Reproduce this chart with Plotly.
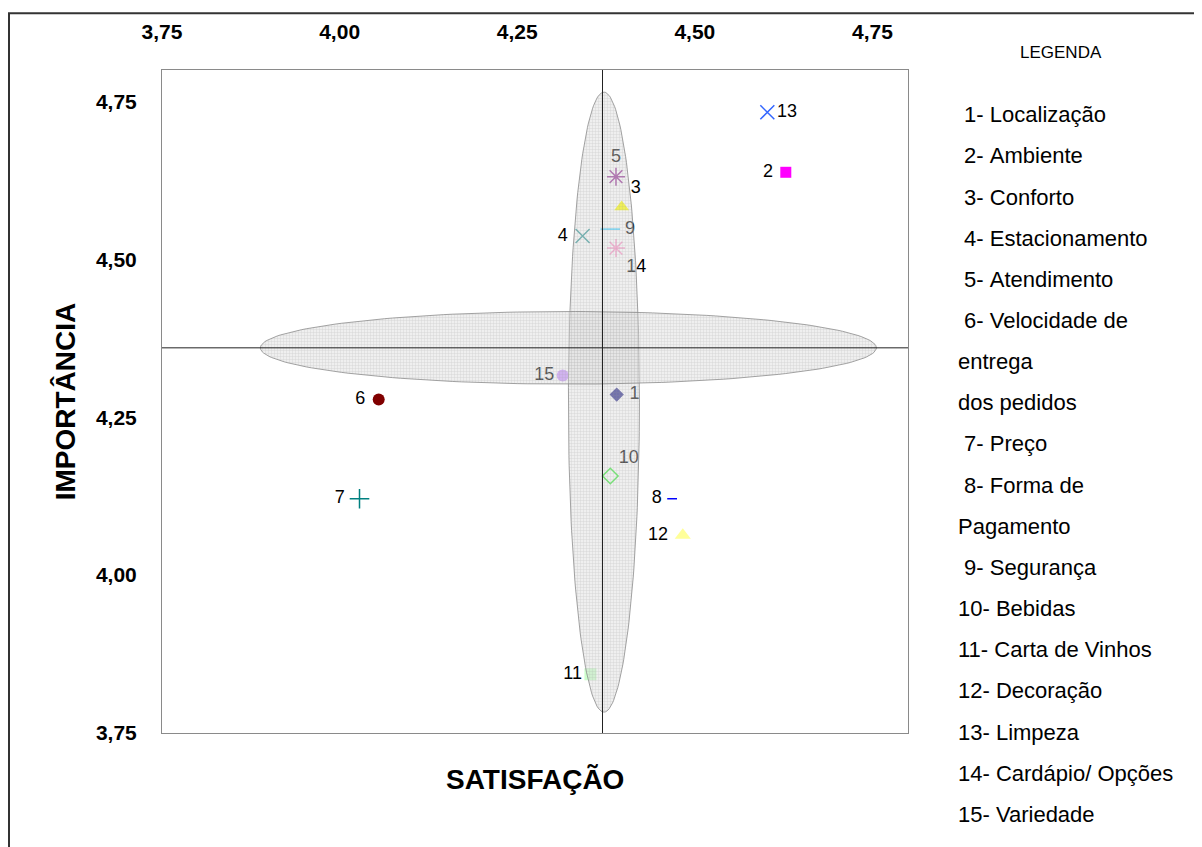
import numpy as np
import plotly.graph_objects as go

# ---------------- data ----------------
ids = [str(i) for i in range(1, 16)]
satisfacao = [4.390, 4.628, 4.397, 4.342, 4.389, 4.055, 4.028, 4.468,
              4.381, 4.381, 4.353, 4.483, 4.602, 4.389, 4.314]
importancia = [4.286, 4.638, 4.583, 4.537, 4.631, 4.278, 4.121, 4.121,
               4.548, 4.157, 3.843, 4.063, 4.733, 4.518, 4.316]
legend_lines = [" 1- Localização", " 2- Ambiente", " 3- Conforto",
                " 4- Estacionamento", " 5- Atendimento", " 6- Velocidade de",
                "entrega", "dos pedidos", " 7- Preço", " 8- Forma de",
                "Pagamento", " 9- Segurança", "10- Bebidas",
                "11- Carta de Vinhos", "12- Decoração", "13- Limpeza",
                "14- Cardápio/ Opções", "15- Variedade"]
tick_vals = [3.75, 4.00, 4.25, 4.50, 4.75]
tick_text = ["3,75", "4,00", "4,25", "4,50", "4,75"]
axis_range = [3.75, 4.80]
mean_sat = 4.370
mean_imp = 4.360

# ellipse parameters (centre x, centre y, radius x, radius y)
ellipse_v = (4.372, 4.274, 0.050, 0.491)
ellipse_h = (4.322, 4.360, 0.4335, 0.0575)

# ---------------- styles ----------------
symbols = ["diamond", "square", "triangle-up", "x-thin-open", "asterisk-open",
           "circle", "cross-thin-open", "line-ew-open", "line-ew-open",
           "diamond-open", "square", "triangle-up", "x-thin-open",
           "asterisk-open", "circle"]
colors = ["#2E2E8E", "#FF00FF", "#FFFF00", "#339999", "#993399",
          "#800000", "#008080", "#0000FF", "#33CCFF", "#33EE33",
          "#CCFFCC", "#FFFF99", "#3366FF", "#FF99CC", "#CC99FF"]
sizes = [11, 11, 13, 14, 15, 12, 14, 7, 14, 12, 12, 14, 14, 15, 12]
textpos = ["middle right", "middle left", "top right", "middle left",
           "top center", "middle left", "middle left", "middle left",
           "middle right", "top right", "middle left", "middle left",
           "middle right", "bottom right", "middle left"]

FONT = "Liberation Sans, Arial"
NB = "\u00a0"
fig = go.Figure()

for i in range(len(ids)):
    open_sym = symbols[i].endswith("-open")
    label = ids[i]
    if len(label) == 1 and textpos[i] == "middle left":
        label = label + NB
    elif len(label) == 1 and textpos[i] == "middle right":
        label = NB + label
    elif textpos[i] == "middle left" and ids[i] == "12":
        label = label + NB
    fig.add_trace(go.Scatter(
        x=[satisfacao[i]], y=[importancia[i]],
        mode="markers+text", text=[label], textposition=textpos[i],
        textfont=dict(family=FONT, size=18, color="black"),
        marker=dict(symbol=symbols[i], size=sizes[i], color=colors[i],
                    line=dict(color=colors[i], width=1.5 if open_sym else 0)),
        showlegend=False, hoverinfo="x+y"))


def ellipse(cx, cy, rx, ry, n=200):
    t = np.linspace(0, 2 * np.pi, n)
    return cx + rx * np.cos(t), cy + ry * np.sin(t)


for (cx, cy, rx, ry) in (ellipse_v, ellipse_h):
    ex, ey = ellipse(cx, cy, rx, ry)
    fig.add_trace(go.Scatter(
        x=ex, y=ey, mode="lines", fill="toself",
        line=dict(color="rgba(140,140,140,0.8)", width=1),
        fillcolor="rgba(200,200,200,0.45)",
        fillpattern=dict(shape="+", size=3, solidity=0.35,
                         fgcolor="rgba(150,150,150,0.5)",
                         bgcolor="rgba(215,215,215,0.4)"),
        showlegend=False, hoverinfo="skip"))

# quadrant lines
fig.add_shape(type="line", xref="x", yref="paper", x0=mean_sat, x1=mean_sat,
              y0=0, y1=1, line=dict(color="#222", width=1), layer="above")
fig.add_shape(type="line", xref="paper", yref="y", x0=0, x1=1,
              y0=mean_imp, y1=mean_imp, line=dict(color="#222", width=1),
              layer="above")

# outer frame
fig.add_shape(type="rect", xref="paper", yref="paper",
              x0=-0.2051, x1=1.3874, y0=-0.2, y1=1.0855,
              line=dict(color="#333", width=2), layer="above")

# axis titles
fig.add_annotation(text="<b>SATISFAÇÃO</b>", xref="paper", yref="paper",
                   x=0.5, y=-0.07, xanchor="center", yanchor="middle",
                   showarrow=False,
                   font=dict(family=FONT, size=28, color="black"))
fig.add_annotation(text="<b>IMPORTÂNCIA</b>", xref="paper", yref="paper",
                   x=-0.129, y=0.5, xanchor="center", yanchor="middle",
                   textangle=-90, showarrow=False,
                   font=dict(family=FONT, size=28, color="black"))

# legend block
fig.add_annotation(text="LEGENDA", xref="paper", yref="paper",
                   x=(1061 - 162) / 746, y=(733 - 48) / 667,
                   xanchor="center", yanchor="middle", showarrow=False,
                   font=dict(family=FONT, size=17, color="black"))
for k, line in enumerate(legend_lines):
    py = 111 + k * 41.4
    fig.add_annotation(text=line.replace(" ", NB), xref="paper", yref="paper",
                       x=(956 - 162) / 746, y=(733 - py) / 667,
                       xanchor="left", yanchor="middle", showarrow=False,
                       font=dict(family=FONT, size=22, color="black"))

fig.update_layout(
    width=1194, height=839,
    margin=dict(l=154, r=294, t=58, b=114),
    paper_bgcolor="white", plot_bgcolor="white",
    xaxis=dict(range=axis_range, side="top", tickvals=tick_vals, ticktext=tick_text,
               showgrid=False, zeroline=False, showline=True, mirror=True,
               linecolor="#8a8a8a", linewidth=1, ticks="",
               ticklabelstandoff=22,
               tickfont=dict(family=FONT, size=21, color="black", weight="bold")),
    yaxis=dict(range=axis_range, tickvals=tick_vals, ticktext=tick_text,
               showgrid=False, zeroline=False, showline=True, mirror=True,
               linecolor="#8a8a8a", linewidth=1, ticks="",
               ticklabelstandoff=20,
               tickfont=dict(family=FONT, size=21, color="black", weight="bold")),
)

fig.write_html("out.html")
